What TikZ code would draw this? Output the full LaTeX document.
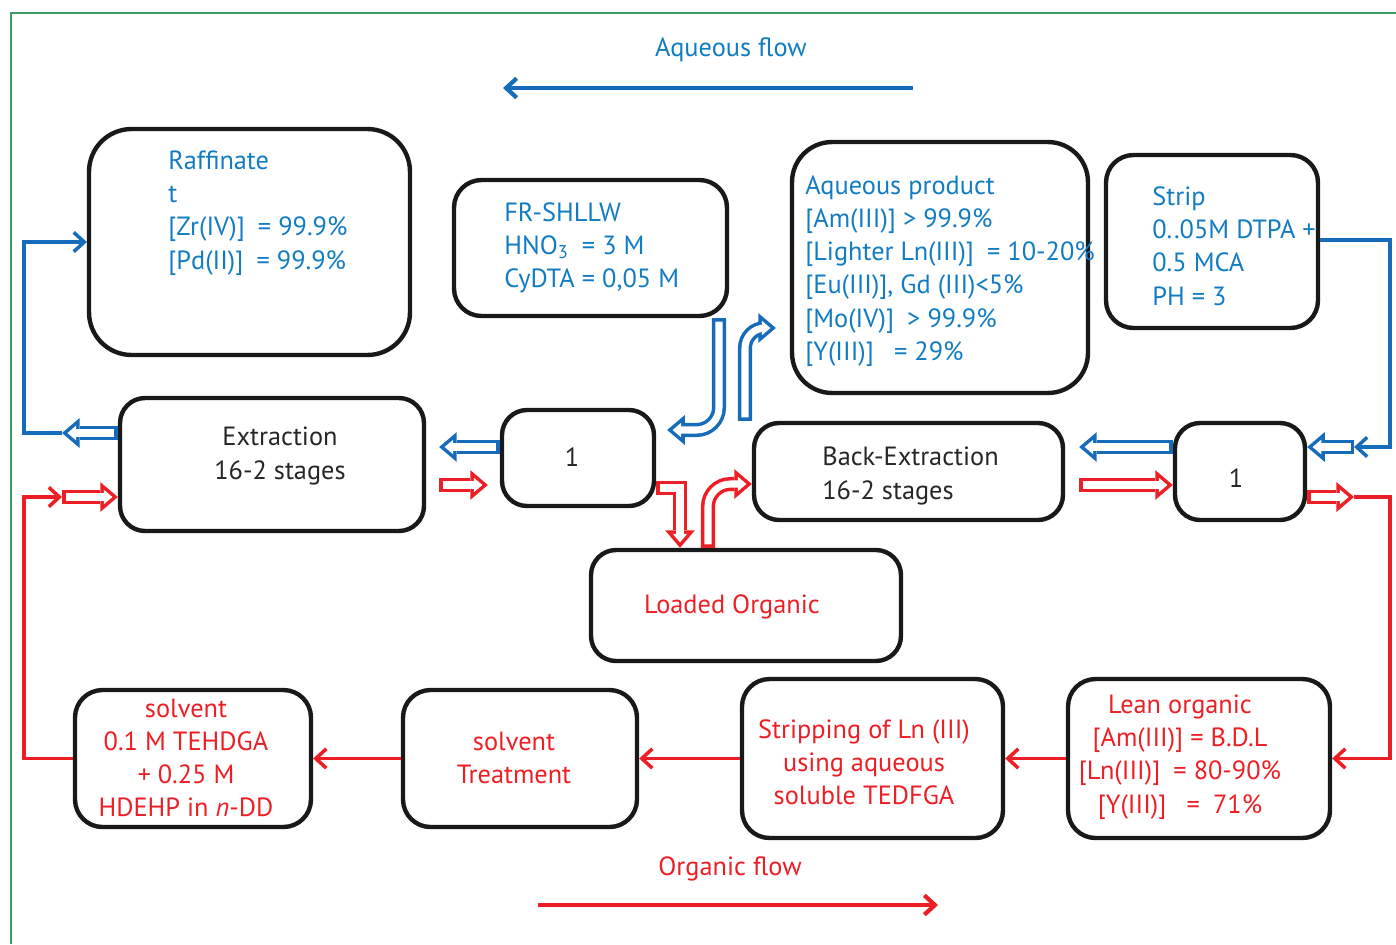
\documentclass[tikz,border=0pt]{standalone}
\usepackage{xcolor}
\usepackage{fontspec}
\setmainfont{PT Sans}
\usepackage{tikz}
\usetikzlibrary{calc}
\usetikzlibrary{arrows.meta}
\usetikzlibrary{positioning}
\definecolor{aqblue}{RGB}{22,108,186}
\definecolor{aqtext}{RGB}{18,124,194}
\definecolor{orred}{RGB}{237,30,36}
\definecolor{framegreen}{RGB}{60,155,100}
\tikzset{>={Straight Barb[length=6pt,width=11pt]}}
\tikzstyle{box} = [draw=black!90, line width=2.5pt, rounded corners=0.55cm, inner sep=0pt]
\tikzstyle{txt} = [font=\fontsize{15}{18.9}\selectfont, inner sep=0pt]
\tikzstyle{aqtxt} = [txt, text=aqtext, align=left, anchor=west]
\tikzstyle{ortxt} = [txt, text=orred, align=center]
\tikzstyle{bktxt} = [txt, text=black!85]
\tikzstyle{hollow} = [line width=8pt, -{Triangle[length=10pt,width=17pt,line width=0pt]},
  postaction={draw=white, line width=4pt, shorten <=2pt, shorten >=3.09pt,
    -{Triangle[length=4.91pt,width=8.35pt,line width=0pt]}}]
\tikzstyle{aqho} = [hollow, draw=aqblue]
\tikzstyle{orho} = [hollow, draw=orred]
\tikzstyle{aqline} = [draw=aqblue, line width=2pt]
\tikzstyle{orline} = [draw=orred, line width=2pt]

\begin{document}
\begin{tikzpicture}[x=0.02cm, y=-0.02cm]
\useasboundingbox (0,0) rectangle (1396,944);
\draw [framegreen, line width=0.9pt] (11,944) -- (11,13) -- (1396,13);

% boxes
\node [box, rounded corners=0.85cm, minimum width=6.42cm, minimum height=4.52cm] (raff) at (249.5,242) {};
\node [box, minimum width=5.46cm, minimum height=2.72cm] (feed) at (590.5,248) {};
\node [box, rounded corners=0.8cm, minimum width=5.92cm, minimum height=5.02cm] (aqprod) at (940,267.5) {};
\node [box, minimum width=4.24cm, minimum height=3.46cm] (strip) at (1212,241.5) {};
\node [box, rounded corners=0.5cm, minimum width=6.08cm, minimum height=2.66cm] (extr) at (272,464.5) {};
\node [box, rounded corners=0.5cm, minimum width=3.04cm, minimum height=1.92cm] (mixL) at (578,458) {};
\node [box, rounded corners=0.5cm, minimum width=6.18cm, minimum height=1.94cm] (bext) at (908.5,471.5) {};
\node [box, rounded corners=0.5cm, minimum width=2.60cm, minimum height=1.94cm] (mixR) at (1240,471.5) {};
\node [box, rounded corners=0.5cm, minimum width=6.20cm, minimum height=2.22cm] (loaded) at (746,605.5) {};
\node [box, minimum width=4.72cm, minimum height=2.74cm] (solv) at (193,758.5) {};
\node [box, minimum width=4.68cm, minimum height=2.74cm] (treat) at (520,758.5) {};
\node [box, minimum width=5.22cm, minimum height=3.18cm] (stripLn) at (872.5,758.5) {};
\node [box, minimum width=5.24cm, minimum height=3.18cm] (lean) at (1199,758.5) {};

% texts
\node [aqtxt] (raffT) at (168,213) {Raffinate\\t\\{[}Zr(IV)]\enspace= 99.9\%\\{[}Pd(II)]\enspace= 99.9\%};
\node [aqtxt] (feedT) at (504,248) {FR-SHLLW\\HNO\textsubscript{3}\enspace= 3 M\\CyDTA = 0,05 M};
\node [aqtxt] (aqprodT) at (805,271) {Aqueous product\\{[}Am(III)] > 99.9\%\\{[}Lighter Ln(III)]\enspace= 10-20\%\\{[}Eu(III)], Gd (III)<5\%\\{[}Mo(IV)]\enspace> 99.9\%\\{[}Y(III)]\enspace\ = 29\%};
\node [aqtxt] (stripT) at (1152,246) {Strip\\0..05M DTPA +\\0.5 MCA\\PH = 3};
\node [bktxt, align=center] (extrT) at (280,456) {Extraction\\16-2 stages};
\node [bktxt] (mixLT) at (572,457) {1};
\node [bktxt, align=left, anchor=west] (bextT) at (822,476) {Back-Extraction\\16-2 stages};
\node [bktxt] (mixRT) at (1236,478) {1};
\node [ortxt] (loadedT) at (732,607) {Loaded Organic};
\node [ortxt] (solvT) at (186,758) {solvent\\0.1 M TEHDGA\\+ 0.25 M\\HDEHP in \textit{n}-DD};
\node [ortxt] (treatT) at (514,758) {solvent\\Treatment};
\node [ortxt] (stripLnT) at (864,762) {Stripping of Ln (III)\\using aqueous\\soluble TEDFGA};
\node [ortxt] (leanT) at (1180,757) {Lean organic\\{[}Am(III)] = B.D.L\\{[}Ln(III)]\enspace= 80-90\%\\{[}Y(III)]\enspace\ =\enspace71\%};

% flow directions
\node [txt, text=aqtext] (aqflow) at (731,50) {Aqueous flow};
\node [ortxt] (orflow) at (730,869) {Organic flow};
\coordinate (aqs) at (913,88);
\coordinate (aqe) at (503,88);
\coordinate (ors) at (538,905);
\coordinate (ore) at (938,905);
\draw [aqblue, line width=2.4pt, ->] (aqs) -- (aqe);
\draw [orred, line width=2.4pt, ->] (ors) -- (ore);

% left loop
\coordinate (exA) at (62,433);
\coordinate (lb) at (24,242);
\coordinate (exB) at (62,497);
\coordinate (lr) at (24,497);
\draw [aqho] (extr.west |- exA) -- (exA);
\draw [aqline, ->] (exA) -| (lb) -- (raff.west);
\draw [orline, ->] (solv.west) -| (lr) -- (exB);
\draw [orho] (exB) -- (extr.west |- exB);

% centre
\draw [aqho] (mixL.west |- 0,447) -- ([xshift=0.26cm]extr.east |- 0,447);
\draw [orho] ([xshift=0.26cm]extr.east |- 0,485) -- ([xshift=-0.24cm]mixL.west |- 0,485);
\draw [aqho, rounded corners=0.45cm] (feed.south -| 719,0) -- (719,430) -- ([xshift=0.22cm]mixL.east |- 0,430);
\draw [aqho, rounded corners=0.4cm] (bext.north -| 745,0) -- (745,328) -- ([xshift=-0.28cm]aqprod.west |- 0,328);
\draw [orho] (mixL.east |- 0,488) -- (680,488) -- (loaded.north -| 680,0);
\draw [orho, rounded corners=0.45cm] (loaded.north -| 708,0) -- (708,484) -- (bext.west |- 0,484);
\draw [aqho] (mixR.west |- 0,447) -- ([xshift=0.28cm]bext.east |- 0,447);
\draw [orho] ([xshift=0.28cm]bext.east |- 0,485) -- (mixR.west |- 0,485);

% right loop
\coordinate (rtA) at (1354,447);
\coordinate (rb) at (1390,240);
\coordinate (rtB) at (1354,497);
\coordinate (rr) at (1390,758.5);
\draw [aqline, ->] (strip.east |- rb) -| (rb |- rtA) -- (rtA);
\draw [aqho] (rtA) -- (mixR.east |- rtA);
\draw [orho] (mixR.east |- rtB) -- (rtB);
\draw [orline, ->] (rtB) -| (rr) -- (lean.east);

% bottom row
\draw [orline, ->] (lean) -- (stripLn);
\draw [orline, ->] (stripLn) -- (treat);
\draw [orline, ->] (treat) -- (solv);
\end{tikzpicture}
\end{document}
